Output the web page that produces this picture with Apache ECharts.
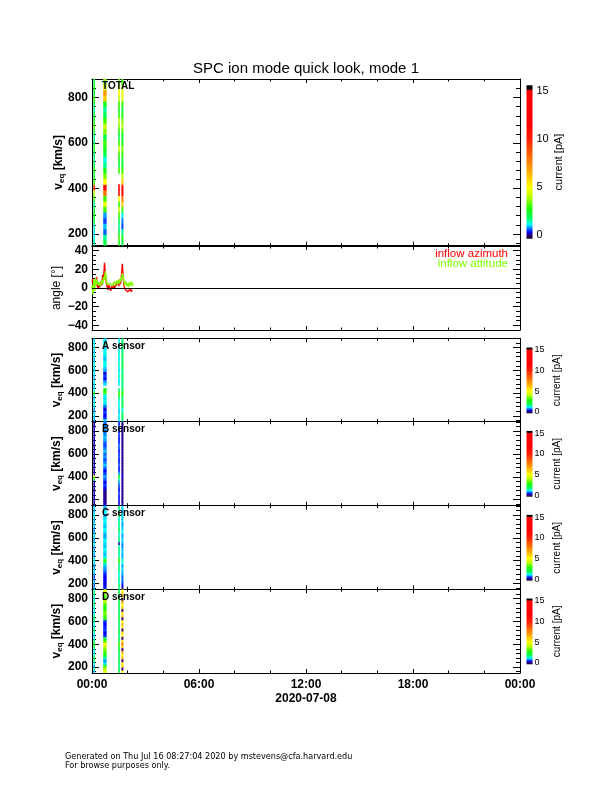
<!DOCTYPE html>
<html><head><meta charset="utf-8">
<script src="https://cdn.jsdelivr.net/npm/echarts@6/dist/echarts.min.js"></script>
<style>html,body{margin:0;padding:0;background:#fff}#c{width:612px;height:792px}</style>
</head><body><div id="c"></div>
<script>
// ---------------- DATA ----------------
const vEdges = [148,172,197,221,246,270,295,319,344,368,393,417,442,466,491,515,540,564,589,613,638,662,687,711,736,760,785,809,834,858,882];
const colStart = [0.08,0.63,1.47,1.65];
const colEnd   = [0.17,0.82,1.56,1.76];
const totalCur = [
  [1.5,1.2,1.0,1.3,1.8,2.5,2,1.5,3,4,10,3,2,2.5,2,1.5,2,2.5,2,1.5,2,3,2.5,2,1.5,2,3,2,2.5,2],
  [2,1.5,0.6,0.9,0.5,0.8,3,4.5,3,8,11,5,3.5,2.5,1.5,1.2,2,2.5,3,2,3.5,4,3,2,1.5,2.5,6,7,4.5,3.5],
  [2.5,3,2,1.5,2,3,4,3,5,11,12,null,null,3,2,2.5,3,4,3,2,2.5,3.5,4,3,2.5,3,4,5,4,3.5],
  [2,2.5,1.5,0.5,0.7,1.2,3,6,8,12,13,6,4,3,2.5,2,3,3.5,2.5,2,3,4,3.5,2.5,2,3,4.5,5,4,3]
];
const sensorA = [
  [1.0,0.8,1.1,0.9,0.7,1.0,1.2,1.0,0.9,1.3,2.5,1.1,0.9,1.0,1.2,0.8,1.0,1.1,0.9,1.0,1.2,1.0,0.8,1.1,1.0,0.9,1.2,1.0,1.1,0.9],
  [1.0,0.4,0.3,0.5,0.2,0.6,1.0,1.2,1.0,1.1,3,2.5,null,1.0,0.8,0.3,0.5,0.2,0.8,1.0,1.1,1.2,0.9,1.0,1.2,1.1,1.0,1.3,1.1,1.0],
  [1.2,1.0,1.1,0.9,1.0,1.2,1.1,1.3,1.5,2.5,3,1.5,null,1.2,1.0,1.1,1.3,1.2,1.0,1.1,1.4,1.2,1.0,1.1,1.3,1.2,1.1,1.0,1.2,1.1],
  [1.6,1.8,2,1.5,1.3,1.7,2,1.8,1.6,2.2,3,2,1.7,1.5,1.6,1.8,1.7,1.5,1.6,1.9,2,1.7,1.6,1.8,1.7,1.5,1.6,1.8,1.7,1.6]
];
const sensorB = [
  [0.1,0.05,0.1,0.2,0.1,0.05,0.1,0.15,0.1,2,4,0.1,0.05,0.1,0.2,0.1,0.05,0.1,0.1,0.2,0.1,0.05,0.1,0.2,0.1,0.1,0.05,0.3,0.1,0.1],
  [0.2,0.05,0.1,0.0,0.05,0.1,0.3,0.5,0.3,0.6,0.8,0.5,0.3,0.6,0.9,0.7,0.5,0.8,0.6,0.9,0.7,0.5,0.6,0.8,0.9,0.7,0.6,0.8,0.7,0.6],
  [0.3,0.2,0.4,0.3,0.5,0.3,0.4,0.6,0.8,1.5,2.5,0.8,0.4,0.3,0.5,0.4,0.3,0.5,0.4,0.3,0.5,0.6,0.4,0.3,0.4,0.5,0.3,0.4,0.5,0.3],
  [0.05,0.1,0.0,0.05,0.1,0.05,0.0,0.1,0.05,0.1,0.2,0.1,0.05,0.0,0.1,0.05,0.1,0.0,0.05,0.1,0.05,0.0,0.1,0.05,0.1,0.0,0.05,0.1,0.05,0.0]
];
const sensorC = [
  [0.8,0.6,0.9,0.7,0.5,0.8,1.0,0.9,0.7,1.0,1.2,0.9,0.8,1.0,0.7,0.9,1.1,0.8,0.9,1.0,0.8,0.7,0.9,1.0,0.8,0.9,1.1,0.9,0.8,1.0],
  [0.4,0.3,0.2,0.3,0.25,0.4,0.6,0.8,0.9,1.5,3,1.2,0.9,1.0,1.1,0.9,1.0,1.1,0.9,0.8,1.0,1.1,0.9,1.0,1.1,1.0,0.9,1.1,1.0,0.9],
  [1.5,1.8,1.3,1.6,1.4,1.2,1.5,1.7,1.4,2,3,1.6,1.3,1.5,1.7,1.4,0.1,1.5,1.6,1.3,1.5,1.7,1.4,1.6,1.5,1.3,1.6,1.4,1.5,1.7],
  [0.1,0.3,0.5,0.7,0.6,0.8,0.9,1.0,0.8,1.1,1.4,0.9,0.8,1.0,0.9,0.7,0.8,1.0,0.9,0.8,1.1,1.0,0.9,0.8,1.0,0.9,1.1,1.0,0.9,1.0]
];
const sensorD = [
  [1.0,1.5,0.8,1.2,1.6,2,1.4,1.0,1.3,1.8,2.5,1.5,1.2,1.0,1.4,1.6,1.3,1.1,1.5,1.8,1.4,1.2,1.0,1.3,1.6,1.5,1.2,1.4,1.7,1.5],
  [4.5,4,3,1.0,0.8,1.5,2.5,3,3.5,4,5,3,2,0.4,0.3,0.5,0.4,0.3,0.4,2.5,3,3.5,3,2.5,3,4,3.5,3,4,4.5],
  [2,1.8,1.5,1.7,2,1.8,1.6,1.9,2.1,2.5,3,2,1.7,1.5,1.8,2,1.7,1.6,1.8,2,1.9,1.7,1.6,1.8,2,1.9,1.7,1.8,2,1.9],
  [5,0.0,6,5.5,0.0,6.5,5,7,0.0,6,8,5.5,0.0,5,6,0.0,5.5,6.5,5,0.0,6,5.5,0.0,6,5,7,0.0,5.5,6,5]
];
const angleTime = [0,0.05,0.1,0.15,0.2,0.25,0.3,0.35,0.4,0.45,0.5,0.55,0.6,0.65,0.7,0.75,0.8,0.85,0.9,0.95,1.0,1.05,1.1,1.15,1.2,1.25,1.3,1.35,1.4,1.45,1.5,1.55,1.6,1.65,1.7,1.75,1.8,1.85,1.9,1.95,2.0,2.05,2.1,2.15,2.2,2.25,2.3];
const azimuth  = [6,10,-2,8,3,12,2,-1,5,1,7,3,14,9,27,15,6,1,-2,3,0,-3,2,-1,4,0,-2,3,1,6,2,9,4,13,26,11,2,-1,-3,0,-4,-2,-5,-1,-4,-2,-3];
const attitude = [3,-7,9,-3,11,4,8,3,6,2,5,8,4,12,9,18,10,4,6,2,5,3,6,2,4,7,3,5,8,4,9,5,11,8,16,12,6,3,7,2,5,1,6,3,7,2,5];
const velTicks = [200,400,600,800];
const velMinor = [160,240,280,320,360,440,480,520,560,640,680,720,760,840,880];
const angleTicks = [-40,-20,0,20,40];
const angleMinor = [-35,-30,-25,-15,-10,-5,5,10,15,25,30,35];
const cbTicks = [0,5,10,15];
const timeLabels = ['00:00','06:00','12:00','18:00','00:00'];
const panelNames = ['TOTAL','','A sensor','B sensor','C sensor','D sensor'];

// ---------------- STYLE / LAYOUT ----------------
const FONT = 'Liberation Sans';
const PL = 92, PW = 428;
const panelTop = [79, 246, 338.3, 421.7, 505.7, 589.3];
const panelH   = [166.7, 84, 83.4, 84, 83.6, 83.7];
const VMIN = 148, VMAX = 882, AMIN = -45, AMAX = 45, CBMIN = -0.4, CBMAX = 15.6;

const cmStops = [[-0.5,[0,0,0]],[0,[48,0,122]],[0.3,[0,0,255]],[0.75,[0,144,255]],[1.1,[0,255,255]],[1.7,[0,255,96]],[2.8,[32,255,0]],[4,[192,255,0]],[5,[255,255,0]],[6.5,[255,176,0]],[8,[255,112,0]],[10,[255,32,0]],[11.5,[255,0,0]],[15,[255,0,0]],[15.25,[0,0,0]]];
function cmap(v){
  if (v <= cmStops[0][0]) return 'rgb(0,0,0)';
  for (let i=1;i<cmStops.length;i++){
    if (v <= cmStops[i][0]){
      const a=cmStops[i-1], b=cmStops[i], f=(v-a[0])/(b[0]-a[0]);
      const c=a[1].map((x,k)=>Math.round(x+(b[1][k]-x)*f));
      return 'rgb('+c.join(',')+')';
    }
  }
  return 'rgb(0,0,0)';
}
function cbGradient(){
  const stops=[{offset:0,color:cmap(CBMIN)}];
  cmStops.forEach(s=>{const o=(s[0]-CBMIN)/(CBMAX-CBMIN); if(o>0&&o<1) stops.push({offset:o,color:cmap(s[0])});});
  stops.push({offset:1,color:cmap(CBMAX)});
  return new echarts.graphic.LinearGradient(0,1,0,0,stops);
}
function specItems(cols){
  const out=[];
  cols.forEach((vals,ci)=>vals.forEach((c,bi)=>{ if(c!=null) out.push([colStart[ci],colEnd[ci],vEdges[bi],vEdges[bi+1],c]); }));
  return out;
}
function renderSpec(params, api){
  const p0 = api.coord([api.value(0), api.value(3)]);
  const p1 = api.coord([api.value(1), api.value(2)]);
  const cs = params.coordSys;
  const r = echarts.graphic.clipRectByRect(
    {x:p0[0], y:p0[1]-0.3, width:Math.max(p1[0]-p0[0],1.3), height:p1[1]-p0[1]+0.6},
    {x:cs.x, y:cs.y, width:cs.width, height:cs.height});
  return r && {type:'rect', shape:r, style:{fill:cmap(api.value(4))}};
}

const grid=[], xAxis=[], yAxis=[], series=[], graphic=[];
const black = {color:'#000', width:1};
function addGrid(top,h,left,w){ grid.push({left:left, top:top, width:w, height:h, show:false, containLabel:false, outerBoundsMode:'none'}); return grid.length-1; }

const panelData = [totalCur, null, sensorA, sensorB, sensorC, sensorD];

for (let i=0;i<6;i++){
  const isAngle = i===1;
  const ymin = isAngle?AMIN:VMIN, ymax = isAngle?AMAX:VMAX;
  const majors = isAngle?angleTicks:velTicks, minors = isAngle?angleMinor:velMinor;
  const g = addGrid(panelTop[i], panelH[i], PL, PW);
  const xb = xAxis.length;
  xAxis.push({gridIndex:g, type:'value', min:0, max:24, interval:6, position:'bottom',
    axisLine:{show:true, onZero:false, lineStyle:black},
    axisTick:{show:true, inside:true, length:4, lineStyle:black},
    minorTick:{show:true, splitNumber:3, length:2.5, lineStyle:black},
    splitLine:{show:false}, minorSplitLine:{show:false},
    axisLabel:{show:i===5, showMinLabel:true, showMaxLabel:true, margin:6, color:'#000', fontFamily:FONT, fontSize:12, fontWeight:'bold',
      formatter:v=>timeLabels[Math.round(v/6)]},
    name:i===5?'2020-07-08':'', nameLocation:'middle', nameGap:20,
    nameTextStyle:{color:'#000', fontFamily:FONT, fontSize:12, fontWeight:'bold', verticalAlign:'top'}
  });
  xAxis.push({gridIndex:g, type:'value', min:0, max:24, interval:6, position:'top',
    axisLine:{show:true, onZero:false, lineStyle:black},
    axisTick:{show:true, inside:true, length:4, lineStyle:black},
    minorTick:{show:true, splitNumber:3, length:2.5, lineStyle:black},
    splitLine:{show:false}, axisLabel:{show:false}});
  const yl = yAxis.length;
  const nameRich = {a:{fontFamily:FONT, fontSize:12, fontWeight:'bold', color:'#000'},
                    b:{fontFamily:FONT, fontSize:8, fontWeight:'bold', color:'#000', padding:[6,0,0,0]}};
  yAxis.push({gridIndex:g, type:'value', min:ymin, max:ymax, position:'left',
    axisLine:{show:true, onZero:false, lineStyle:black},
    axisTick:{show:true, inside:true, length:7, lineStyle:black, customValues:majors},
    axisLabel:{customValues:majors, margin:4, color:'#000', fontFamily:FONT, fontSize:12, fontWeight:'bold',
      formatter:v=>(v<0?'\u2212'+Math.abs(v):String(v))},
    splitLine:{show:false},
    name: isAngle ? 'angle [\u00b0]' : '{a|v}{b|eq}{a| [km/s]}',
    nameLocation:'middle', nameRotate:90, nameMoveOverlap:false,
    nameGap: isAngle ? 29 : (i===0 ? 26 : 28),
    nameTextStyle: isAngle ? {color:'#000', fontFamily:FONT, fontSize:12} : {rich:nameRich}
  });
  yAxis.push({gridIndex:g, type:'value', min:ymin, max:ymax, position:'right',
    axisLine:{show:true, onZero:false, lineStyle:black},
    axisTick:{show:true, inside:true, length:7, lineStyle:black, customValues:majors},
    axisLabel:{show:false}, splitLine:{show:false}});
  // minor tick overlay
  const gm = addGrid(panelTop[i], panelH[i], PL, PW);
  xAxis.push({gridIndex:gm, type:'value', min:0, max:24, show:false});
  yAxis.push({gridIndex:gm, type:'value', min:ymin, max:ymax, position:'left',
    axisLine:{show:false}, axisTick:{show:true, inside:true, length:4, lineStyle:black, customValues:minors},
    axisLabel:{show:false}, splitLine:{show:false}});
  yAxis.push({gridIndex:gm, type:'value', min:ymin, max:ymax, position:'right',
    axisLine:{show:false}, axisTick:{show:true, inside:true, length:4, lineStyle:black, customValues:minors},
    axisLabel:{show:false}, splitLine:{show:false}});

  if (isAngle){
    series.push({type:'line', xAxisIndex:xb, yAxisIndex:yl, data:[], silent:true, z:1,
      markLine:{silent:true, symbol:['none','none'], label:{show:false}, lineStyle:{color:'#000', width:1, type:'solid'}, data:[{yAxis:0}]}});
    series.push({type:'line', xAxisIndex:xb, yAxisIndex:yl, z:3, symbol:'none', animation:false,
      lineStyle:{color:'#ff0000', width:1.4}, data:angleTime.map((t,k)=>[t,azimuth[k]])});
    series.push({type:'line', xAxisIndex:xb, yAxisIndex:yl, z:4, symbol:'none', animation:false,
      lineStyle:{color:'#80ff00', width:1.4}, data:angleTime.map((t,k)=>[t,attitude[k]])});
  } else {
    series.push({type:'custom', xAxisIndex:xb, yAxisIndex:yl, renderItem:renderSpec, animation:false,
      encode:{x:[0,1], y:[2,3]}, data:specItems(panelData[i]), z:2});
    // colorbar
    const cbTop = i===0 ? 85.2 : panelTop[i]+9.2;
    const cbH = i===0 ? 153.6 : 65.8;
    const gc = addGrid(cbTop, cbH, 526.5, 6);
    const cx = xAxis.length;
    xAxis.push({gridIndex:gc, type:'value', min:0, max:1, show:false});
    const cy = yAxis.length;
    yAxis.push({gridIndex:gc, type:'value', min:CBMIN, max:CBMAX, position:'right',
      axisLine:{show:false}, axisTick:{show:false}, splitLine:{show:false},
      axisLabel:{customValues:cbTicks, margin:i===0?4:2, color:'#000', fontFamily:FONT, fontSize:i===0?11:9},
      name:'current [pA]', nameLocation:'middle', nameRotate:90, nameGap:i===0?21:20,
      nameTextStyle:{color:'#000', fontFamily:FONT, fontSize:i===0?11:10}});
    series.push({type:'custom', xAxisIndex:cx, yAxisIndex:cy, animation:false, data:[[0.5,7]],
      renderItem:(params)=>{const cs=params.coordSys; return {type:'rect', shape:{x:cs.x,y:cs.y,width:cs.width,height:cs.height}, style:{fill:cbGradient()}};}});
  }
  if (panelNames[i]){
    graphic.push({type:'text', left:102, top:panelTop[i]+(i===0?2:2.5), z:50,
      style:{text:panelNames[i], fill:'#000', font:'bold 10px "'+FONT+'"'}});
  }
}

graphic.push({type:'text', right:104, top:247.5, z:50, style:{text:'inflow azimuth', fill:'#ff0000', font:'11.5px "'+FONT+'"'}});
graphic.push({type:'text', right:104, top:257.5, z:50, style:{text:'inflow attitude', fill:'#80ff00', font:'11.5px "'+FONT+'"'}});
graphic.push({type:'text', left:65, top:752, z:50, style:{text:'Generated on Thu Jul 16 08:27:04 2020 by mstevens@cfa.harvard.edu\nFor browse purposes only.', fill:'#000', font:'8.1px "DejaVu Sans"', lineHeight:9.5}});

const option = {
  animation:false,
  backgroundColor:'#fff',
  title:{text:'SPC ion mode quick look, mode 1', left:'center', top:56,
    textStyle:{color:'#000', fontFamily:FONT, fontSize:15, fontWeight:'normal'}},
  grid:grid, xAxis:xAxis, yAxis:yAxis, series:series, graphic:graphic
};
const chart = echarts.init(document.getElementById('c'), null, {renderer:'canvas', width:612, height:792});
chart.setOption(option);
</script></body></html>
